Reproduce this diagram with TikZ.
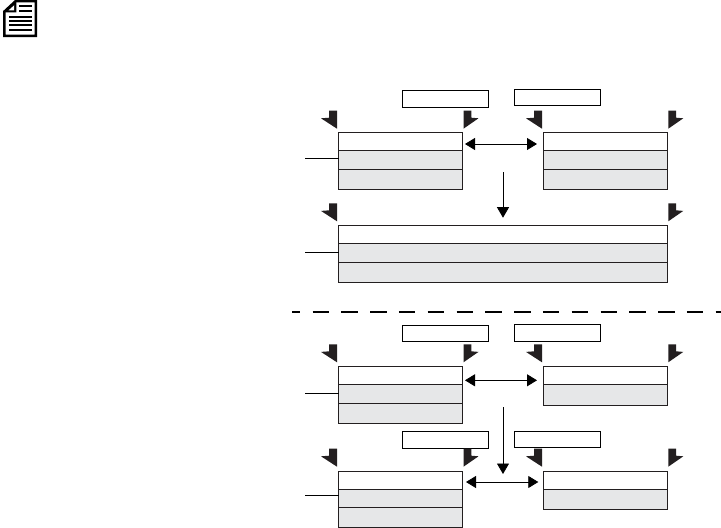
\documentclass[tikz,border=0pt]{standalone}
\usetikzlibrary{arrows.meta,calc}
\definecolor{ink}{HTML}{231F20}
\definecolor{cellgrey}{HTML}{E6E7E8}
\tikzset{
  cellbox/.style={draw=ink,line width=1pt,inner sep=0pt,outer sep=0pt,rectangle},
  plaincell/.style={cellbox,fill=white},
  greycell/.style={cellbox,fill=cellgrey},
  tagbox/.style={draw=black,line width=1pt,fill=white,inner sep=0pt,outer sep=0pt,rectangle},
  flagshape/.style={fill=ink,draw=none},
  link/.style={draw=black,line width=.8pt},
  twoway/.style={link,{Triangle[length=10pt,width=12pt]}-{Triangle[length=10pt,width=12pt]}},
  oneway/.style={link,-{Triangle[length=10.5pt,width=12pt]}},
  leadline/.style={draw=black,line width=.8pt},
  sepline/.style={draw=black,line width=1.5pt,dash pattern=on 16.5pt off 12.3pt,dash phase=8.3pt},
}
% name, x1, y1, x2, y2, style
\newcommand{\boxat}[6]{\node[#6,minimum width={(#4-#2)*1pt},minimum height={(#5-#3)*1pt}] (#1) at ({(#2+#4)/2},{(#3+#5)/2}) {};}
\newcommand{\flagleft}[2]{\fill[flagshape] (#1-7.8,#2) -- (#1,#2) -- (#1,#2+18) -- (#1-16,#2+7.6) -- (#1-7.8,#2+7) -- cycle;}
\newcommand{\flagright}[2]{\fill[flagshape] (#1,#2) -- (#1+7.8,#2) -- (#1+7.8,#2+7) -- (#1+15,#2+7.6) -- (#1,#2+18) -- cycle;}
\begin{document}
\begin{tikzpicture}[x=1pt,y=-1pt]
\useasboundingbox (0,0) rectangle (721,528);
% note icon
\draw[black,line width=2.4pt,line join=miter,fill=white] (4.4,11.5) -- (15.5,1.2) -- (35.8,1.2) -- (35.8,35.8) -- (4.4,35.8) -- cycle;
\fill[black] (4.4,11.5) -- (15.5,1.2) -- (16.3,1.2) -- (16.3,12.3) -- (4.4,12.3) -- cycle;
\fill[white] (8.5,10.4) -- (14.2,5.2) -- (14.2,10.4) -- cycle;
\draw[black,line width=1.7pt] (19,5.7) -- (32,5.7) (19,11) -- (32,11) (9,16.7) -- (32,16.7) (9,20.8) -- (32,20.8) (9,25) -- (32,25) (9,30) -- (32,30);
% section 1
\boxat{tagA}{402.3}{90.3}{488.7}{107.3}{tagbox}
\boxat{tagB}{514.3}{89.3}{600.3}{105.3}{tagbox}
\flagleft{337}{110.7}\flagright{463.5}{110.7}\flagleft{542}{110.7}\flagright{668.3}{110.7}
\boxat{aOne}{338.5}{132.3}{462.7}{150.3}{plaincell}
\boxat{aTwo}{338.5}{150.3}{462.7}{169.3}{greycell}
\boxat{aThree}{338.5}{169.3}{462.7}{189}{greycell}
\boxat{bOne}{543.3}{132.3}{667.3}{150.3}{plaincell}
\boxat{bTwo}{543.3}{150.3}{667.3}{169.3}{greycell}
\boxat{bThree}{543.3}{169.3}{667.3}{189}{greycell}
\coordinate (leadA) at (305,158.3);
\draw[leadline] (leadA) -- (leadA -| aTwo.west);
\draw[twoway] ($(aOne.east)+(2.3,2.7)$) -- ($(bOne.west)+(-6.3,2.7)$);
\flagleft{337}{203.3}\flagright{668.3}{203.3}
\boxat{wOne}{338.5}{225.3}{667.3}{243.3}{plaincell}
\boxat{wTwo}{338.5}{243.3}{667.3}{262.3}{greycell}
\boxat{wThree}{338.5}{262.3}{667.3}{282.3}{greycell}
\coordinate (downAs) at (503,172.3);
\coordinate (downAe) at (503,217.7);
\draw[oneway] (downAs) -- (downAe);
\coordinate (leadW) at (305,252.3);
\draw[leadline] (leadW) -- (leadW -| wTwo.west);
% separator
\coordinate (sepL) at (292,312);
\coordinate (sepR) at (721,312);
\draw[sepline] (sepL) -- (sepR);
% section 2
\boxat{tagC}{402.3}{325.3}{488.7}{341.3}{tagbox}
\boxat{tagD}{514.3}{324.3}{600.3}{341.3}{tagbox}
\flagleft{337}{344.3}\flagright{463.5}{344.3}\flagleft{542}{344.3}\flagright{668.3}{344.3}
\boxat{cOne}{338.5}{366.3}{462.7}{384.3}{plaincell}
\boxat{cTwo}{338.5}{384.3}{462.7}{403.3}{greycell}
\boxat{cThree}{338.5}{403.3}{462.7}{423}{greycell}
\boxat{dOne}{543.3}{366.3}{667.3}{384.3}{plaincell}
\boxat{dTwo}{543.3}{384.3}{667.3}{405.3}{greycell}
\coordinate (leadC) at (305,393.3);
\draw[leadline] (leadC) -- (leadC -| cTwo.west);
\draw[twoway] ($(cOne.east)+(2.3,5)$) -- ($(dOne.west)+(-6.3,5)$);
\coordinate (downBs) at (503,407.3);
\coordinate (downBe) at (503,474);
\draw[oneway] (downBs) -- (downBe);
% section 3
\boxat{tagE}{402.3}{431.3}{488.7}{448.3}{tagbox}
\boxat{tagF}{514.3}{431.7}{600.3}{447.3}{tagbox}
\flagleft{337}{448.7}\flagright{463.5}{448.7}\flagleft{542}{448.7}\flagright{668.3}{448.7}
\boxat{eOne}{338.5}{471.3}{462.7}{489.3}{plaincell}
\boxat{eTwo}{338.5}{489.3}{462.7}{507.3}{greycell}
\boxat{eThree}{338.5}{507.3}{462.7}{527.3}{greycell}
\boxat{fOne}{543.3}{471.3}{667.3}{489.3}{plaincell}
\boxat{fTwo}{543.3}{489.3}{667.3}{509.3}{greycell}
\coordinate (leadE) at (305,495.3);
\draw[leadline] (leadE) -- (leadE -| eTwo.west);
\draw[twoway] ($(eOne.east)+(3.3,1.7)$) -- ($(fOne.west)+(-5,1.7)$);
\end{tikzpicture}
\end{document}
